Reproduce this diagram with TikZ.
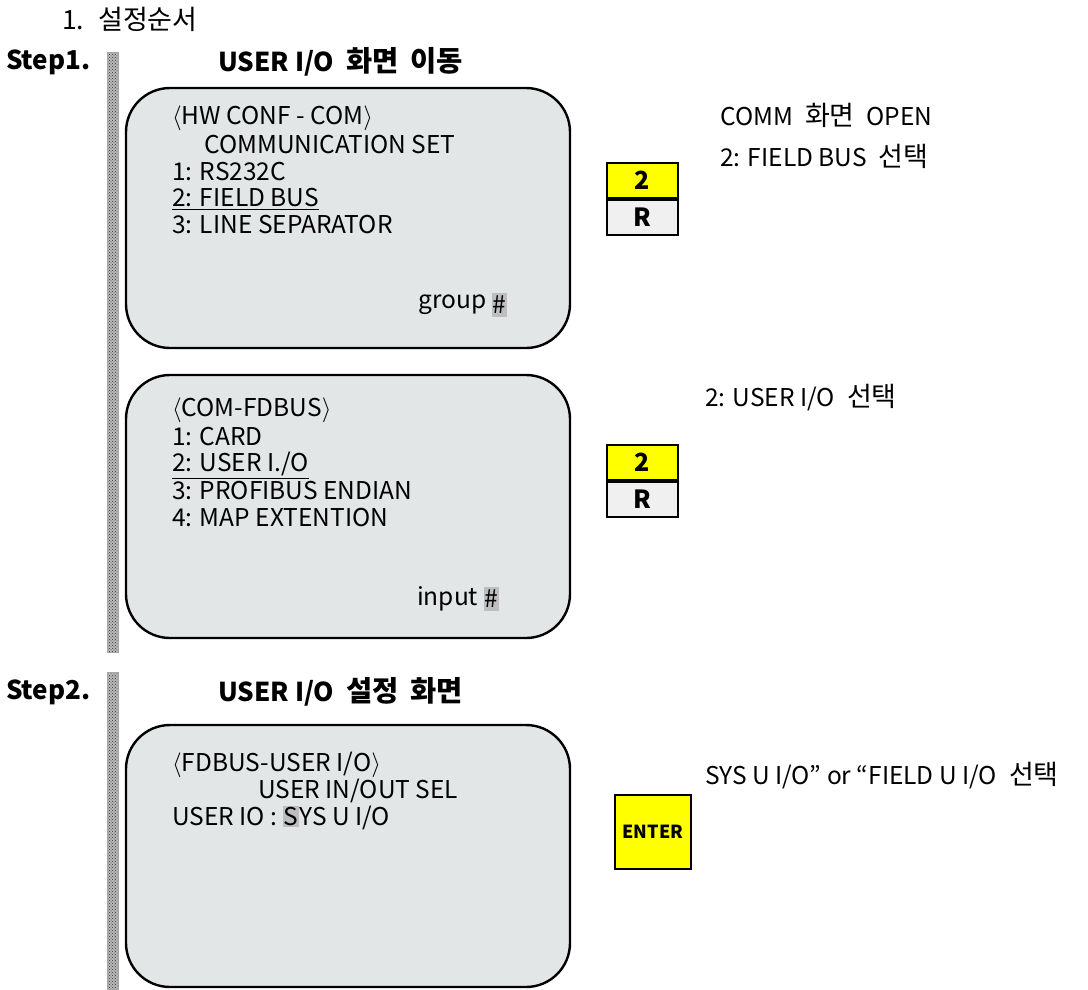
\documentclass[tikz,border=0pt]{standalone}
\usepackage{fontspec}
\setmainfont{Noto Sans CJK KR}
\usetikzlibrary{positioning,patterns}
\definecolor{scr}{RGB}{227,230,231}
\definecolor{keyy}{RGB}{255,255,0}
\definecolor{keyg}{RGB}{240,240,240}
\definecolor{hl}{RGB}{190,190,190}
\setlength{\fboxsep}{1pt}
\newcommand{\lab}{$\langle$}
\newcommand{\rab}{$\rangle$}
\newcommand{\gap}{\hspace{12pt}}
\newcommand{\kr}[1]{{\fontsize{27}{30}\selectfont #1}}
\newcommand{\krb}[1]{{\fontsize{28.5}{30}\selectfont #1}}

\begin{document}
\begin{tikzpicture}[x=1pt,y=-1pt,font=\fontsize{24.5}{28}\selectfont,
  screen/.style={draw,line width=2.4pt,rounded corners=44pt,fill=scr},
  bar/.style={pattern=crosshatch dots,pattern color=gray!40!black,draw=gray!70,line width=0.4pt},
  txt/.style={anchor=west,inner sep=0pt},
  head/.style={anchor=west,inner sep=0pt,font=\fontsize{26}{30}\selectfont\bfseries},
  keytop/.style={draw,line width=2pt,fill=keyy,minimum width=71pt,minimum height=35pt,inner sep=0pt,font=\fontsize{25}{28}\selectfont\bfseries},
  keybot/.style={draw,line width=2pt,fill=keyg,minimum width=71pt,minimum height=35pt,inner sep=0pt,font=\fontsize{25}{28}\selectfont\bfseries},
  enter/.style={draw,line width=2pt,fill=keyy,minimum width=76pt,minimum height=74pt,inner sep=0pt,font=\fontsize{18}{20}\selectfont\bfseries},
  hash/.style={fill=hl,inner sep=1pt,minimum height=24pt}]
  \useasboundingbox (0,0) rectangle (1088,989);
  % title and step 1
  \node[txt,font=\fontsize{26.5}{30}\selectfont] (title) at (62,19) {1.\hspace{14pt}\kr{설정순서}};
  \node[head] (st1) at (6,62) {Step1.};
  \node[head] (h1) at (218,62) {USER I/O\gap\krb{화면}\gap\krb{이동}};
  \fill[gray!55] (107,52) rectangle (118,652);
  \draw[bar] (107,52) rectangle (118,652);
  % screen 1
  \draw[screen] (126,88) rectangle (570,348);
  \node[txt] (s1a) at (172,118) {\lab HW CONF - COM\rab};
  \node[txt] (s1b) at (204,145) {COMMUNICATION SET};
  \node[txt] (s1c) at (172,172) {1: RS232C};
  \node[txt] (s1d) at (172,198) {2: FIELD BUS};
  \node[txt] (s1e) at (172,225) {3: LINE SEPARATOR};
  \draw[line width=1.2pt] ([yshift=-2pt]s1d.south west) -- ([yshift=-2pt]s1d.south east);
  \node[txt] (g1) at (418,305) {group};
  \node[hash,right=5pt of g1] (g1h) {\#};
  \node[keytop] (k1a) at (642.5,180) {2};
  \node[keybot,below=0pt of k1a] (k1b) {R};
  \node[txt] (n1a) at (720,115) {COMM\gap\kr{화면}\gap OPEN};
  \node[txt] (n1b) at (720,156) {2: FIELD BUS\gap\kr{선택}};
  % screen 2
  \draw[screen] (126,375) rectangle (570,638);
  \node[txt] (s2a) at (172,410) {\lab COM-FDBUS\rab};
  \node[txt] (s2b) at (172,437) {1: CARD};
  \node[txt] (s2c) at (172,464) {2: USER I./O};
  \node[txt] (s2d) at (172,491) {3: PROFIBUS ENDIAN};
  \node[txt] (s2e) at (172,518) {4: MAP EXTENTION};
  \draw[line width=1.2pt] ([yshift=-2pt]s2c.south west) -- ([yshift=-2pt]s2c.south east);
  \node[txt] (g2) at (417,599) {input};
  \node[hash,right=5pt of g2] (g2h) {\#};
  \node[keytop] (k2a) at (642.5,462) {2};
  \node[keybot,below=0pt of k2a] (k2b) {R};
  \node[txt] (n2a) at (705,398) {2: USER I/O\gap\kr{선택}};
  % step 2
  \node[head] (st2) at (6,692) {Step2.};
  \node[head] (h2) at (218,692) {USER I/O\gap\krb{설정}\gap\krb{화면}};
  \fill[gray!55] (107,672) rectangle (118,989);
  \draw[bar] (107,672) rectangle (118,989);
  \draw[screen] (126,725) rectangle (570,987);
  \node[txt] (s3a) at (172,765) {\lab FDBUS-USER I/O\rab};
  \node[txt] (s3b) at (258,791) {USER IN/OUT SEL};
  \node[txt] (s3c) at (172,818) {USER IO : \colorbox{hl}{S}YS U I/O};
  \node[enter] (ent) at (653,832) {ENTER};
  \node[txt] (n3a) at (705,776) {SYS U I/O” or “FIELD U I/O\gap\kr{선택}};
\end{tikzpicture}
\end{document}
